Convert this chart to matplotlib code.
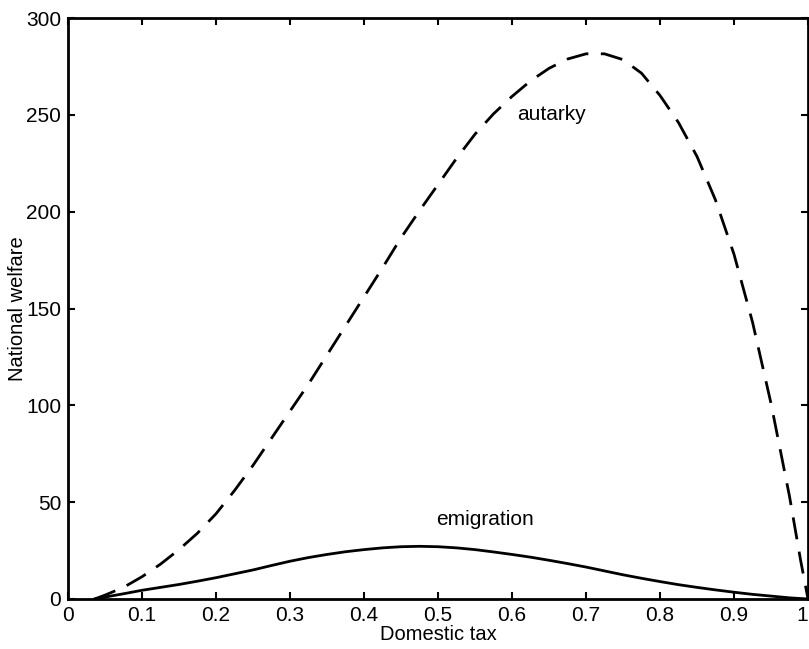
import matplotlib
matplotlib.use("Agg")
import matplotlib.pyplot as plt

plt.rcParams['font.family'] = ['Liberation Sans', 'DejaVu Sans']

# Data
autarky_x = [0.036, 0.05, 0.075, 0.1, 0.125, 0.15, 0.175, 0.2, 0.225, 0.25,
             0.275, 0.3, 0.325, 0.35, 0.375, 0.4, 0.425, 0.45, 0.475, 0.5,
             0.525, 0.55, 0.575, 0.6, 0.625, 0.65, 0.675, 0.7, 0.725, 0.75,
             0.775, 0.8, 0.825, 0.85, 0.875, 0.9, 0.925, 0.95, 0.975, 0.99, 1.0]
autarky_y = [0, 2, 6, 11.5, 18, 25.5, 34, 44, 56, 69,
             83, 97, 111, 126, 141, 156, 171, 186.5, 200.5, 214,
             227.5, 240, 250.5, 259.5, 267.5, 274, 278.8, 281.5, 281.5, 278.5,
             271.5, 260, 246, 228.5, 206, 178, 143, 101, 53, 20, 0]

emig_x = [0.036, 0.05, 0.075, 0.1, 0.125, 0.15, 0.175, 0.2, 0.225, 0.25,
          0.275, 0.3, 0.325, 0.35, 0.375, 0.4, 0.425, 0.45, 0.475, 0.5,
          0.525, 0.55, 0.575, 0.6, 0.625, 0.65, 0.675, 0.7, 0.725, 0.75,
          0.775, 0.8, 0.825, 0.85, 0.875, 0.9, 0.925, 0.95, 0.975, 1.0]
emig_y = [0, 1, 2.7, 4.5, 6, 7.5, 9.2, 11, 13, 15,
          17.3, 19.5, 21.4, 23, 24.4, 25.5, 26.4, 27, 27.2, 27,
          26.4, 25.5, 24.3, 23, 21.6, 20, 18.3, 16.5, 14.5, 12.5,
          10.7, 9, 7.4, 6, 4.7, 3.5, 2.4, 1.5, 0.6, 0]

xticks = [0, 0.1, 0.2, 0.3, 0.4, 0.5, 0.6, 0.7, 0.8, 0.9, 1]
xtick_labels = ['0', '0.1', '0.2', '0.3', '0.4', '0.5', '0.6', '0.7', '0.8', '0.9', '1']
yticks = [0, 50, 100, 150, 200, 250, 300]

fig = plt.figure(figsize=(8.09, 6.49), dpi=100)
ax = fig.add_axes([68/809, 1 - 599/649, 740/809, 581/649])

ax.plot(autarky_x, autarky_y, color='black', linewidth=2.0, dashes=(8.0, 4.5))
ax.plot(emig_x, emig_y, color='black', linewidth=2.0, linestyle='-')

ax.text(0.654, 250, 'autarky', fontsize=15, ha='center', va='center')
ax.text(0.563, 41, 'emigration', fontsize=15, ha='center', va='center')

ax.set_xlim(0, 1)
ax.set_ylim(0, 300)
ax.set_xticks(xticks)
ax.set_xticklabels(xtick_labels)
ax.set_yticks(yticks)
ax.tick_params(direction='in', length=5, width=1.5, top=True, right=True,
               labelsize=15, pad=5)
ax.get_xticklabels()[-1].set_ha('right')
for s in ax.spines.values():
    s.set_linewidth(2.0)

ax.set_xlabel('Domestic tax', fontsize=14.5, labelpad=0)
ax.set_ylabel('National welfare', fontsize=14.5, labelpad=-1)

fig.savefig('out.png', dpi=100)
